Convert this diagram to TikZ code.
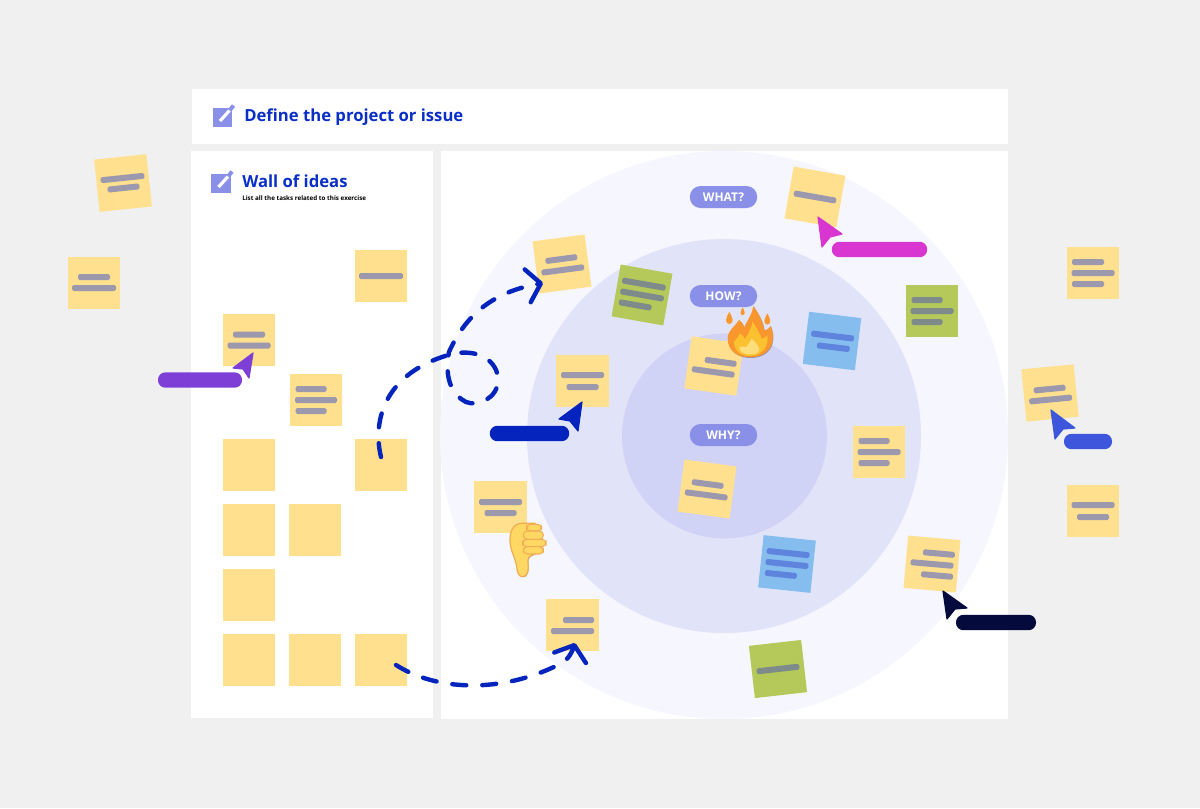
\documentclass[tikz,border=0pt]{standalone}
\usepackage{fontspec}
\setmainfont{Open Sans}
\usetikzlibrary{arrows.meta,shadows}

\definecolor{pagegrey}{HTML}{F0F0F0}
\definecolor{ringouter}{HTML}{F5F6FE}
\definecolor{ringmid}{HTML}{E1E4F9}
\definecolor{ringinner}{HTML}{D0D3F5}
\definecolor{tagblue}{HTML}{8A90E8}
\definecolor{titleblue}{HTML}{0A2FC8}
\definecolor{arrowblue}{HTML}{0524BE}
\definecolor{stickyyellow}{HTML}{FFE08E}
\definecolor{stickygreen}{HTML}{B4C95A}
\definecolor{stickyblue}{HTML}{85BDEE}
\definecolor{bargrey}{HTML}{9C99AE}
\definecolor{barblue}{HTML}{5F84DE}
\definecolor{bargreen}{HTML}{7F8A8A}
\definecolor{cursorpink}{HTML}{D935D0}
\definecolor{cursorpurple}{HTML}{7D3FD6}
\definecolor{cursorroyal}{HTML}{3D56DC}
\definecolor{cursornavy}{HTML}{050A3C}
\definecolor{flameorange}{HTML}{F9962D}
\definecolor{flameyellow}{HTML}{FCC12E}
\definecolor{flamelight}{HTML}{FEDD7D}
\definecolor{thumbfill}{HTML}{FFD863}
\definecolor{thumbedge}{HTML}{F0AD55}

\tikzset{
	panel/.style={rectangle, fill=white, inner sep=0pt},
	ring/.style={circle, inner sep=0pt},
	note yellow/.style={rectangle, fill=stickyyellow, minimum size=39.4pt, inner sep=0pt},
	note green/.style={rectangle, fill=stickygreen, minimum size=39.4pt, inner sep=0pt},
	note blue/.style={rectangle, fill=stickyblue, minimum size=39.4pt, inner sep=0pt},
	bar yellow/.style={fill=bargrey, rounded corners=1.2pt},
	bar green/.style={fill=bargreen, rounded corners=1.2pt},
	bar blue/.style={fill=barblue, rounded corners=1.2pt},
	tag/.style={rectangle, fill=tagblue, rounded corners=8pt, minimum width=50.5pt, minimum height=16.5pt, inner sep=0pt, text=white, font=\bfseries\fontsize{9}{11}\selectfont},
	pill/.style={rectangle, rounded corners=5.5pt, minimum height=11.5pt, inner sep=0pt},
	cursor/.style={line width=0.9pt, line join=round},
	dashline/.style={draw=arrowblue, line width=3.3pt, line cap=round, dash pattern=on 10.5pt off 12pt,
			-{Straight Barb[length=10pt,width=25pt,line width=3.3pt,round]}},
	iconbox/.style={rectangle, fill=tagblue, minimum size=14.5pt, inner sep=0pt},
	title/.style={anchor=base west, inner sep=0pt, text=titleblue, font=\bfseries\fontsize{12.5}{15}\selectfont},
	emoji/.style={drop shadow={shadow xshift=0.4pt, shadow yshift=-0.5pt, opacity=0.3, fill=black}},
}

% name, position, angle, colour, bars as dx/dy/width
\newcommand{\sticky}[5]{
	\node[note #4, rotate=#3] (#1) at (#2) {};
	\begin{scope}[shift={(#2)}, rotate=#3]
		\foreach \barx/\bary/\barw in {#5}
			\fill[bar #4] (\barx-\barw/2,\bary-3) rectangle (\barx+\barw/2,\bary+3);
	\end{scope}
}

% name, centre x, centre y
\newcommand{\editicon}[3]{
	\node[iconbox] (#1) at (#2,#3) {};
	\draw[white, line width=2.4pt] (#2-2.5,#3+3.5) -- (#2+7,#3-7);
	\draw[tagblue, line width=3pt] (#2+7.5,#3-7.5) -- (#2+11,#3-12);
}

\begin{document}
\begin{tikzpicture}[x=0.75pt, y=-0.75pt]
	\fill[pagegrey] (0,0) rectangle (1200,808);

	% panels
	\node[panel, minimum width=612pt, minimum height=41.25pt] (topbar) at (600,116.5) {};
	\node[panel, minimum width=181pt, minimum height=425.5pt] (wall) at (312,434.5) {};
	\node[panel, minimum width=425.25pt, minimum height=426pt] (board) at (724.5,435) {};

	% rings
	\node[ring, fill=ringouter, minimum size=426pt] (outer ring) at (724,435) {};
	\node[ring, fill=ringmid, minimum size=295.5pt] (mid ring) at (724,436) {};
	\node[ring, fill=ringinner, minimum size=153.75pt] (inner ring) at (724.5,436) {};

	% titles
	\editicon{top icon}{222.5}{117.5}
	\node[title] (top title) at (244,121.5) {Define the project or issue};
	\editicon{wall icon}{221}{183.5}
	\node[title] (wall title) at (242,187.5) {Wall of ideas};
	\node[anchor=west, inner sep=0pt, font=\bfseries\fontsize{4.7}{6}\selectfont] (wall text) at (242,198.5) {List all the tasks related to this exercise};

	% empty notes on the wall
	\foreach \notename/\notepos in {a/{249,465}, b/{381,465}, c/{249,530}, d/{315,530}, e/{249,595}, f/{249,660}, g/{315,660}, h/{381,660}}
		\node[note yellow] (blank \notename) at (\notepos) {};

	% notes
	\sticky{far one}{123,183}{6}{yellow}{0/-5/44, 0/5/32}
	\sticky{far two}{94,283}{0}{yellow}{0/-6/32, 0/5/44}
	\sticky{wall one}{381,276}{0}{yellow}{0/0/44}
	\sticky{wall two}{249,340}{0}{yellow}{0/-5.5/32, 0/5.5/43}
	\sticky{wall three}{316,400}{0}{yellow}{-5/-11/31, 0/0/42, -5/11/31}
	\sticky{outer one}{562,264}{7.5}{yellow}{0/-5/32, 0/6/43}
	\sticky{mid green}{642,295}{-10}{green}{0/-11/44, 0/0/44, -5/11/33}
	\sticky{mid one}{582.5,381}{0}{yellow}{0/-6/43, 0/6/32}
	\sticky{outer two}{500.5,507}{0}{yellow}{0/-5/43, 0/6/32}
	\sticky{outer three}{572.5,625}{0}{yellow}{6/-5/31, 0/6/43}
	\sticky{core one}{714,366}{-8}{yellow}{6/-5/32, 0/6/43}
	\sticky{core two}{707,489}{-7.5}{yellow}{0/-5/32, 0/6/43}
	\sticky{mid blue}{832,341}{-7}{blue}{0/-5/43, 2/6/33}
	\sticky{right green}{932,311}{0}{green}{-5/-11/31, 0/0/43, -5/11/31}
	\sticky{mid two}{879,452}{0}{yellow}{-5/-11/31, 0/0/43, -5/11/31}
	\sticky{edge one}{932,564}{-5}{yellow}{6/-11/32, 0/0/43, 6/11/32}
	\sticky{top one}{815,197}{-10}{yellow}{0/0/43}
	\sticky{low blue}{787,564}{-6}{blue}{0/-11/43, 0/0/43, -5/11/32}
	\sticky{low green}{778,669}{6.5}{green}{0/0/43}
	\sticky{far three}{1093,273}{0}{yellow}{-5/-11/32, 0/0/43, -5/11/32}
	\sticky{far four}{1050,393}{5.5}{yellow}{0/-4/32, 0/6.5/43}
	\sticky{far five}{1093,511}{0}{yellow}{0/-6/43, 0/6/32}

	% tags
	\node[tag] (what tag) at (723.5,197) {WHAT?};
	\node[tag] (how tag) at (723.5,296) {HOW?};
	\node[tag] (why tag) at (723.5,435) {WHY?};

	% dashed arrows
	\coordinate (loop start) at (381,457);
	\coordinate (loop end) at (543,283);
	\coordinate (low start) at (396,665);
	\coordinate (low end) at (575,643);
	\draw[dashline] (loop start) .. controls (372,420) and (385,372) .. (452,354)
		.. controls (480,348) and (498,362) .. (498,380)
		.. controls (498,398) and (478,407) .. (466,402)
		.. controls (452,395) and (444,378) .. (449,352)
		.. controls (470,305) and (505,290) .. (loop end);
	\draw[dashline] (low start) .. controls (435,690) and (500,695) .. (562,663)
		.. controls (566,661) and (571,655) .. (low end);

	% cursors
	\node[pill, fill=cursorpink, minimum width=71.5pt] (pink pill) at (879.5,249.5) {};
	\draw[cursor, draw=cursorpink, fill=cursorpink] (818,217) -- ++(24,17) -- ++(-12,3) -- ++(-8,10) -- cycle;
	\node[pill, fill=cursorpurple, minimum width=63pt] (purple pill) at (200,380) {};
	\draw[cursor, draw=cursorpurple, fill=cursorpurple] (253,353) -- ++(-20,15) -- ++(10,1) -- ++(6,9) -- cycle;
	\node[pill, fill=arrowblue, minimum width=59.5pt] (blue pill) at (529.5,433.5) {};
	\draw[cursor, draw=arrowblue, fill=arrowblue] (582,402) -- ++(-23,17) -- ++(11,2) -- ++(8,10) -- cycle;
	\node[pill, fill=cursorroyal, minimum width=36pt] (royal pill) at (1088,441.5) {};
	\draw[cursor, draw=cursorroyal, fill=cursorroyal] (1051,410) -- ++(24,18) -- ++(-12,1) -- ++(-8,10) -- cycle;
	\node[pill, fill=cursornavy, minimum width=60pt] (navy pill) at (996,622.5) {};
	\draw[cursor, draw=cursornavy, fill=cursornavy] (943,591) -- ++(24,17) -- ++(-12,1) -- ++(-8,10) -- cycle;

	% flame
	\begin{scope}[shift={(660,270)}, scale=0.3333]
		\fill[flameorange, emoji] (270,262) .. controls (230,262) and (203,240) .. (203,205)
			.. controls (203,180) and (225,170) .. (237,150) .. controls (245,155) and (250,162) .. (253,172)
			.. controls (262,150) and (278,130) .. (280,108) .. controls (295,130) and (310,155) .. (313,182)
			.. controls (322,178) and (328,175) .. (332,168) .. controls (338,185) and (340,195) .. (338,210)
			.. controls (335,240) and (310,262) .. (270,262) -- cycle;
		\fill[flameyellow] (270,258) .. controls (240,258) and (222,240) .. (222,215)
			.. controls (230,208) and (235,200) .. (240,190) .. controls (248,195) and (252,200) .. (255,207)
			.. controls (265,190) and (275,175) .. (277,155) .. controls (288,170) and (300,190) .. (305,207)
			.. controls (312,205) and (318,200) .. (322,195) .. controls (328,230) and (305,258) .. (270,258) -- cycle;
		\fill[flamelight] (270,253) .. controls (250,253) and (238,245) .. (238,232)
			.. controls (245,228) and (252,228) .. (258,232) .. controls (262,222) and (272,218) .. (275,205)
			.. controls (283,215) and (295,225) .. (298,238) .. controls (298,248) and (288,253) .. (270,253) -- cycle;
		\foreach \dropx/\dropy/\dropsize in {208/125/1.1, 248/112/0.7, 322/130/1}
			\fill[flameorange, shift={(\dropx,\dropy)}, scale=\dropsize] (0,0) .. controls (-4,10) and (-9,15) .. (-9,23)
				.. controls (-9,37) and (9,37) .. (9,23) .. controls (9,15) and (4,10) .. (0,0) -- cycle;
	\end{scope}

	% thumb
	\begin{scope}[shift={(460,470)}, scale=0.3333]
		\filldraw[draw=thumbedge, fill=thumbfill, line width=0.9pt, emoji] (185,160) .. controls (160,160) and (148,185) .. (150,215)
			.. controls (152,245) and (165,260) .. (170,290) .. controls (172,312) and (178,320) .. (188,320)
			.. controls (203,320) and (207,300) .. (204,280) .. controls (202,265) and (205,258) .. (225,252)
			-- (225,160) -- cycle;
		\foreach \fingerleft/\fingertop/\fingerright/\fingerlow in {200/163/245/183, 190/183/250/208, 188/208/258/230, 190/230/250/252}
			\filldraw[draw=thumbedge, fill=thumbfill, line width=0.8pt, rounded corners=3pt] (\fingerleft,\fingertop) rectangle (\fingerright,\fingerlow);
	\end{scope}
\end{tikzpicture}
\end{document}
